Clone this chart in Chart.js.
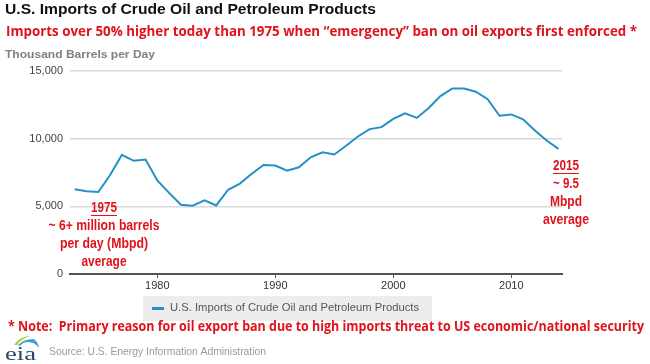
<!DOCTYPE html>
<html>
<head>
<meta charset="utf-8">
<script src="https://cdn.jsdelivr.net/npm/chart.js@4.4.1/dist/chart.umd.min.js"></script>
<style>
  html,body{margin:0;padding:0;background:#fff;}
  #wrap{width:650px;height:364px;position:relative;}
</style>
</head>
<body>
<div id="wrap"><canvas id="c" width="650" height="364"></canvas></div>
<script>
// ---- Data (thousand barrels per day) ----
const years = [1973,1974,1975,1976,1977,1978,1979,1980,1981,1982,1983,1984,1985,1986,1987,1988,1989,1990,1991,1992,1993,1994,1995,1996,1997,1998,1999,2000,2001,2002,2003,2004,2005,2006,2007,2008,2009,2010,2011,2012,2013,2014];
const imports = [6256,6112,6056,7313,8807,8363,8456,6909,5996,5113,5051,5437,5067,6224,6678,7402,8061,8018,7627,7888,8620,8996,8835,9478,10162,10708,10852,11459,11871,11530,12264,13145,13714,13707,13468,12915,11691,11793,11436,10598,9859,9241];
const xTicks = [1980,1990,2000,2010];
const yTicks = [0,5000,10000,15000];
const seriesName = 'U.S. Imports of Crude Oil and Petroleum Products';
const titleText = 'U.S. Imports of Crude Oil and Petroleum Products';
const subtitleText = 'Imports over 50% higher today than 1975 when \u201Cemergency\u201D ban on oil exports first enforced *';
const unitText = 'Thousand Barrels per Day';
const noteText = '* Note:  Primary reason for oil export ban due to high imports threat to US economic/national security';
const sourceText = 'Source: U.S. Energy Information Administration';
const note1975 = ['1975','~ 6+ million barrels','per day (Mbpd)','average'];
const note2015 = ['2015','~ 9.5','Mbpd','average'];

const RED = '#e1121b';
const ARIAL = '"Liberation Sans", Arial, sans-serif';
const NARROW = '"Liberation Sans Narrow", "Liberation Sans", Arial, sans-serif';
const CAL = '"Open Sans", "Noto Sans", sans-serif';

function drawFit(ctx, text, x, y, width, align) {
  const w = ctx.measureText(text).width;
  const s = width / w;
  ctx.save();
  let x0 = x;
  if (align === 'center') x0 = x - width/2;
  ctx.translate(x0, y);
  ctx.scale(s, 1);
  ctx.textAlign = 'left';
  ctx.fillText(text, 0, 0);
  ctx.restore();
}

const decor = {
  id: 'decor',
  beforeDraw(chart) {
    const ctx = chart.ctx;
    ctx.save();
    ctx.fillStyle = '#fff';
    ctx.fillRect(0,0,chart.width,chart.height);
    ctx.restore();
  },
  afterDraw(chart) {
    const ctx = chart.ctx;
    ctx.save();
    ctx.textBaseline = 'middle';
    // Title
    ctx.fillStyle = '#111';
    ctx.font = 'bold 15px ' + ARIAL;
    drawFit(ctx, titleText, 5, 10, 371);
    // Subtitle
    ctx.fillStyle = RED;
    ctx.font = 'bold 14px ' + CAL;
    drawFit(ctx, subtitleText, 6, 32, 631);
    // Unit
    ctx.fillStyle = '#808080';
    ctx.font = 'bold 11px ' + ARIAL;
    drawFit(ctx, unitText, 5, 55, 150);

    // Annotations
    ctx.fillStyle = RED;
    ctx.strokeStyle = RED;
    ctx.font = 'bold 15px ' + NARROW;
    const a1 = [[104,208,26],[104,226,111],[104,244,88],[104,262,45]];
    note1975.forEach((t,i)=>{ drawFit(ctx, t, a1[i][0], a1[i][1], a1[i][2], 'center'); });
    const a2 = [[566,166,26],[566,184,26],[566,202,32],[566,220,46]];
    note2015.forEach((t,i)=>{ drawFit(ctx, t, a2[i][0], a2[i][1], a2[i][2], 'center'); });
    ctx.lineWidth = 1;
    ctx.beginPath();
    ctx.moveTo(91,215.5); ctx.lineTo(117,215.5);
    ctx.moveTo(553,173.5); ctx.lineTo(579,173.5);
    ctx.stroke();

    // Legend
    ctx.fillStyle = '#ededed';
    ctx.fillRect(143, 296, 289, 25);
    ctx.strokeStyle = '#2490c6';
    ctx.lineWidth = 3;
    ctx.beginPath(); ctx.moveTo(152,308.5); ctx.lineTo(164,308.5); ctx.stroke();
    ctx.fillStyle = '#555';
    ctx.font = '11px ' + ARIAL;
    drawFit(ctx, seriesName, 170, 308, 249);

    // Note
    ctx.fillStyle = RED;
    ctx.font = 'bold 14px ' + CAL;
    drawFit(ctx, noteText, 8, 327, 636);

    // Source
    ctx.fillStyle = '#9a9a9a';
    ctx.font = '10.5px ' + ARIAL;
    drawFit(ctx, sourceText, 49, 352, 217);

    // eia logo
    ctx.fillStyle = '#2b4766';
    ctx.font = '19px "Liberation Serif", "DejaVu Serif", serif';
    drawFit(ctx, 'eia', 5, 355, 31);
    // swoosh
    ctx.fillStyle = '#a6cf3c';
    ctx.beginPath();
    ctx.moveTo(14,345);
    ctx.quadraticCurveTo(20,336,31,336);
    ctx.quadraticCurveTo(22,338,17,345);
    ctx.closePath(); ctx.fill();
    ctx.fillStyle = '#3a9fd6';
    ctx.beginPath();
    ctx.moveTo(18,345);
    ctx.quadraticCurveTo(24,339,33,339);
    ctx.quadraticCurveTo(38,341,39,348);
    ctx.quadraticCurveTo(35,342,28,342);
    ctx.quadraticCurveTo(23,342,20,346);
    ctx.closePath(); ctx.fill();
    ctx.restore();
  }
};

const points = years.map((y,i)=>({x:y, y:imports[i]}));

new Chart(document.getElementById('c'), {
  type: 'line',
  data: {
    datasets: [{
      label: seriesName,
      data: points,
      borderColor: '#2490c6',
      borderWidth: 2,
      pointRadius: 0,
      tension: 0,
      fill: false
    }]
  },
  options: {
    responsive: false,
    animation: false,
    devicePixelRatio: 1,
    layout: { padding: { left: 0, top: 71, right: 88, bottom: 0 } },
    plugins: { legend: { display: false }, tooltip: { enabled: false }, title: { display: false } },
    scales: {
      x: {
        type: 'linear',
        min: 1972.6,
        max: 2014.3,
        afterFit(s) { s.height = 90; },
        afterBuildTicks(s) { s.ticks = xTicks.map(v=>({value:v})); },
        ticks: { color: '#333', font: { family: ARIAL, size: 11 }, padding: 1, maxRotation: 0, autoSkip: false, callback: v => String(v) },
        grid: { drawOnChartArea: false, drawTicks: true, tickLength: 4, color: '#555', lineWidth: 1 },
        border: { display: true, color: '#555', width: 2 }
      },
      y: {
        min: 0,
        max: 15000,
        afterFit(s) { s.width = 70; },
        afterBuildTicks(s) { s.ticks = yTicks.map(v=>({value:v})); },
        ticks: { color: '#444', font: { family: ARIAL, size: 11 }, padding: 7, callback: v => v.toLocaleString('en-US') },
        grid: { drawTicks: false, color: ctx => ctx.tick && ctx.tick.value === 0 ? 'rgba(0,0,0,0)' : '#d9d9d9', lineWidth: 1.5 },
        border: { display: false }
      }
    }
  },
  plugins: [decor]
});
</script>
</body>
</html>
